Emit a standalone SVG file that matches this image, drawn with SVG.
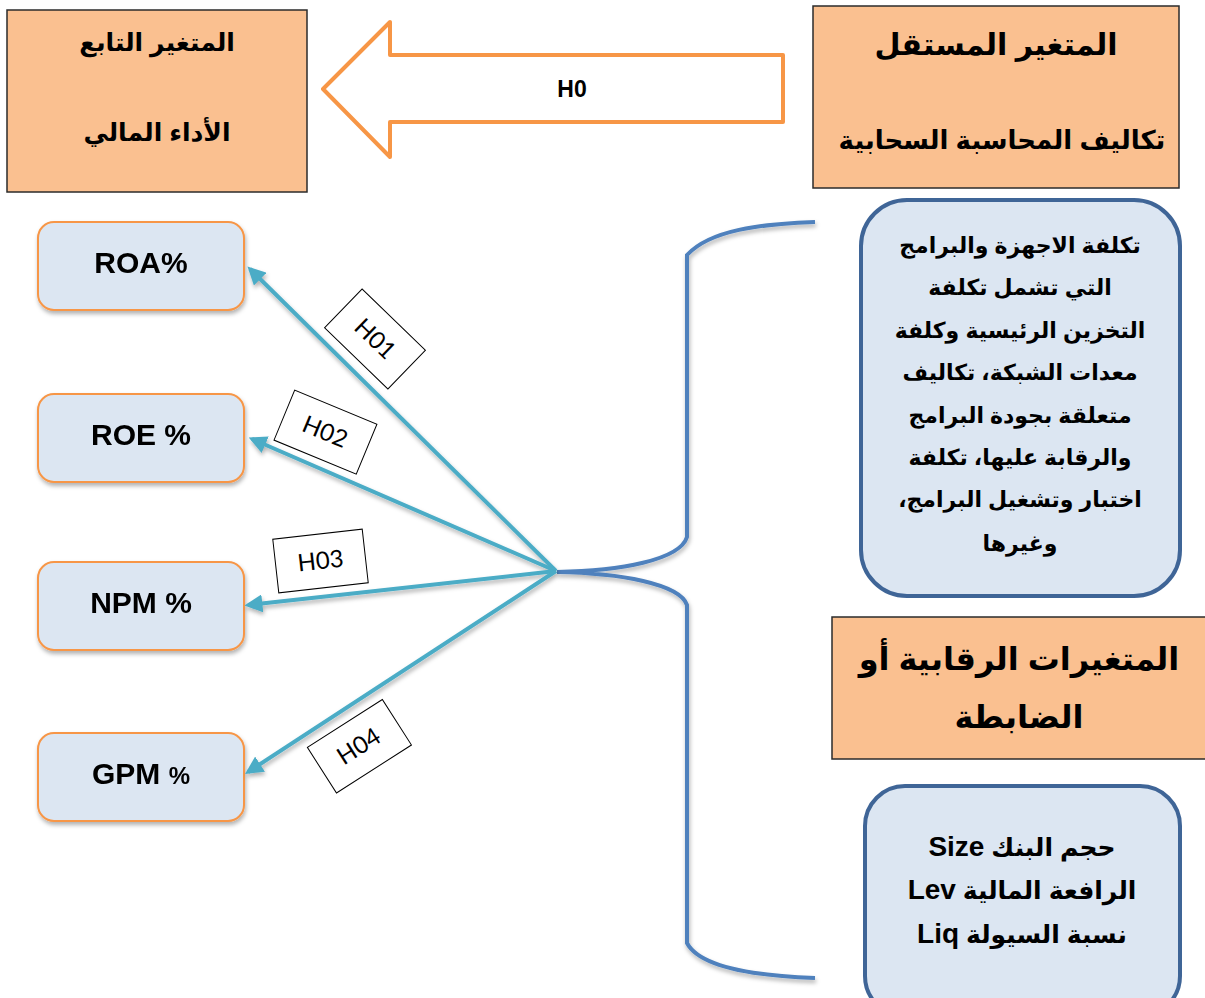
<svg xmlns="http://www.w3.org/2000/svg" width="1205" height="998" viewBox="0 0 1205 998">
<style>
.peach{fill:#FAC090;stroke:#2b2b2b;stroke-width:1.5}
.ar{font-family:"Liberation Sans","DejaVu Sans",sans-serif;font-weight:bold;fill:#000;text-anchor:middle}
.blue{fill:#DCE6F2;stroke:#3F6597;stroke-width:4}
.dep{fill:#DCE6F2;stroke:#F79646;stroke-width:2}
.lat{font-family:"Liberation Sans",Arial,sans-serif;font-weight:bold;font-size:30px;fill:#000;text-anchor:middle}
.hl{fill:#fff;stroke:#000;stroke-width:1}
.ht{font-family:Lato,"Open Sans",sans-serif;font-size:24px;fill:#000;text-anchor:middle}
.conn{stroke:#4BACC6;stroke-width:4;fill:none}
</style>
<defs>
<marker id="ah" viewBox="0 0 10 10" refX="8" refY="5" markerWidth="4.5" markerHeight="4.5" orient="auto" markerUnits="strokeWidth">
<path d="M0,0 L10,5 L0,10 z" fill="#4BACC6"/>
</marker>
<filter id="sh" x="-10%" y="-10%" width="130%" height="140%">
<feDropShadow dx="1" dy="3" stdDeviation="2" flood-color="#000" flood-opacity="0.3"/>
</filter>
</defs>
<rect width="1205" height="998" fill="#fff"/>

<g id="dependent">
<rect class="peach" x="7" y="10" width="300" height="182"/>
<text class="ar" x="157" y="51" font-size="25" direction="rtl">المتغير التابع</text>
<text class="ar" x="157" y="141" font-size="25" direction="rtl">الأداء المالي</text>
</g>

<g id="independent">
<rect class="peach" x="813" y="6" width="366" height="182"/>
<text class="ar" x="996" y="55" font-size="30" direction="rtl">المتغير المستقل</text>
<text class="ar" x="1002" y="149" font-size="26" direction="rtl">تكاليف المحاسبة السحابية</text>
</g>

<g id="h0-arrow">
<path d="M323,89 L390,22 L390,55 L783,55 L783,122 L390,122 L390,157 Z" fill="#fff" stroke="#F79646" stroke-width="4" stroke-linejoin="round"/>
<text x="572" y="97" font-family="Liberation Sans,Arial,sans-serif" font-weight="bold" font-size="23" text-anchor="middle">H0</text>
</g>

<g id="costs">
<rect class="blue" x="861" y="200" width="319" height="396" rx="46"/>
<g class="ar" font-size="22" direction="rtl">
<text x="1020" y="253">تكلفة الاجهزة والبرامج</text>
<text x="1020" y="295">التي تشمل تكلفة</text>
<text x="1020" y="338">التخزين الرئيسية وكلفة</text>
<text x="1020" y="380">معدات الشبكة، تكاليف</text>
<text x="1020" y="423">متعلقة بجودة البرامج</text>
<text x="1020" y="465">والرقابة عليها، تكلفة</text>
<text x="1020" y="507">اختبار وتشغيل البرامج،</text>
<text x="1020" y="551">وغيرها</text>
</g>
</g>

<g id="control-title">
<rect class="peach" x="832" y="617" width="380" height="142"/>
<text class="ar" x="1019" y="670" font-size="32" direction="rtl">المتغيرات الرقابية أو</text>
<text class="ar" x="1019" y="728" font-size="32" direction="rtl">الضابطة</text>
</g>

<g id="control-vars">
<rect class="blue" x="865" y="786" width="315" height="230" rx="40"/>
<g class="ar" font-size="25" direction="rtl">
<text x="1022" y="856">حجم البنك <tspan font-size="28">Size</tspan></text>
<text x="1022" y="899">الرافعة المالية <tspan font-size="28">Lev</tspan></text>
<text x="1022" y="943">نسبة السيولة <tspan font-size="28">Liq</tspan></text>
</g>
</g>

<g id="roa" filter="url(#sh)">
<rect class="dep" x="38" y="222" width="206" height="88" rx="16"/>
<text class="lat" x="141" y="273">ROA%</text>
</g>
<g id="roe" filter="url(#sh)">
<rect class="dep" x="38" y="394" width="206" height="88" rx="16"/>
<text class="lat" x="141" y="445">ROE %</text>
</g>
<g id="npm" filter="url(#sh)">
<rect class="dep" x="38" y="562" width="206" height="88" rx="16"/>
<text class="lat" x="141" y="613">NPM %</text>
</g>
<g id="gpm" filter="url(#sh)">
<rect class="dep" x="38" y="733" width="206" height="88" rx="16"/>
<text class="lat" x="141" y="784">GPM <tspan font-size="24">%</tspan></text>
</g>

<g id="connectors">
<path d="M815,222 C760,224 710,230 687,255 L687,537 C680,560 620,571 557,572 C620,573 680,584 687,605 L687,943 C700,968 760,976 815,978" fill="none" stroke="#4F81BD" stroke-width="4" filter="url(#sh)"/>
<g filter="url(#sh)">
<line class="conn" x1="556" y1="571" x2="250" y2="269" marker-end="url(#ah)"/>
<line class="conn" x1="556" y1="571" x2="252" y2="439" marker-end="url(#ah)"/>
<line class="conn" x1="556" y1="571" x2="248" y2="605" marker-end="url(#ah)"/>
<line class="conn" x1="556" y1="571" x2="248" y2="772" marker-end="url(#ah)"/>
</g>
</g>

<g id="label-h01" transform="translate(375,339) rotate(44)">
<rect class="hl" x="-44" y="-27" width="88" height="54"/>
<text class="ht" x="0" y="8">H01</text>
</g>
<g id="label-h02" transform="translate(325,432) rotate(22.5)">
<rect class="hl" x="-44" y="-27" width="89" height="54"/>
<text class="ht" x="0" y="8">H02</text>
</g>
<g id="label-h03" transform="translate(320.5,561) rotate(-6.4)">
<rect class="hl" x="-45" y="-27" width="90" height="54"/>
<text class="ht" x="0" y="8">H03</text>
</g>
<g id="label-h04" transform="translate(359,746.5) rotate(-32.6)">
<rect class="hl" x="-44" y="-27" width="89" height="54"/>
<text class="ht" x="0" y="8">H04</text>
</g>
</svg>
